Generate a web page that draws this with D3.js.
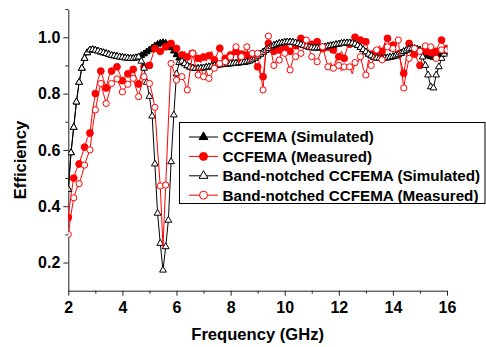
<!DOCTYPE html>
<html>
<head>
<meta charset="utf-8">
<script src="https://cdn.jsdelivr.net/npm/d3@7"></script>
<style>
  body { margin: 0; background: #fff; }
  svg { display: block; font-family: "Liberation Sans", Arial, sans-serif; font-weight: bold; }
</style>
</head>
<body>
<div id="chart"></div>
<script>
(function () {
  "use strict";

  // frequency grid, 2 - 16 GHz, 0.1 GHz step
  var freq = d3.range(141).map(function (i) { return +(2 + i * 0.1).toFixed(1); });

  var ccfemaSim = [
    0.46,0.59,0.68,0.77,0.84,0.89,0.925,0.945,0.955,0.956,
    0.954,0.951,0.948,0.945,0.942,0.939,0.936,0.934,0.932,0.93,
    0.929,0.927,0.926,0.925,0.925,0.927,0.93,0.935,0.941,0.948,
    0.955,0.962,0.969,0.975,0.979,0.981,0.979,0.973,0.963,0.951,
    0.938,0.926,0.915,0.906,0.899,0.894,0.891,0.889,0.889,0.89,
    0.891,0.893,0.895,0.897,0.899,0.901,0.902,0.903,0.904,0.905,
    0.906,0.907,0.908,0.909,0.91,0.911,0.913,0.916,0.92,0.926,
    0.933,0.94,0.947,0.954,0.96,0.966,0.971,0.975,0.978,0.98,
    0.982,0.983,0.983,0.982,0.98,0.977,0.974,0.971,0.968,0.965,
    0.963,0.962,0.962,0.963,0.964,0.966,0.968,0.97,0.972,0.974,
    0.976,0.978,0.979,0.98,0.98,0.979,0.976,0.971,0.964,0.956,
    0.948,0.94,0.934,0.929,0.926,0.925,0.925,0.926,0.927,0.929,
    0.931,0.934,0.938,0.943,0.949,0.954,0.958,0.96,0.96,0.958,
    0.954,0.948,0.941,0.935,0.931,0.929,0.93,0.934,0.939,0.945,
    0.95];

  var ccfemaMeas = [
    0.36,0.44,0.50,0.53,0.55,0.58,0.61,0.64,0.66,0.74,
    0.80,0.85,0.88,0.85,0.82,0.86,0.88,0.89,0.895,0.87,
    0.846,0.86,0.87,0.88,0.886,0.86,0.834,0.87,0.895,0.90,
    0.90,0.93,0.96,0.955,0.95,0.949,0.966,0.975,0.978,0.972,
    0.96,0.945,0.937,0.95,0.93,0.955,0.943,0.93,0.925,0.91,
    0.93,0.915,0.935,0.95,0.92,0.94,0.961,0.94,0.925,0.945,
    0.937,0.93,0.95,0.925,0.94,0.93,0.937,0.92,0.93,0.91,
    0.895,0.87,0.86,0.94,0.978,0.96,0.95,0.97,0.955,0.965,
    0.96,0.975,0.95,0.965,0.97,0.955,0.996,0.98,0.97,0.96,
    0.975,0.955,0.984,0.965,0.96,0.95,0.965,0.945,0.955,0.94,
    0.931,0.95,0.925,0.96,0.975,0.985,1.0,0.99,0.99,0.975,
    0.984,0.95,0.94,0.96,0.935,0.97,0.95,0.98,0.996,0.96,
    0.972,0.95,0.94,0.91,0.872,0.93,0.978,0.96,0.94,0.92,
    0.90,0.93,0.949,0.96,0.945,0.965,0.95,0.975,0.99,0.97,
    0.96];

  var notchSim = [
    0.46,0.59,0.68,0.77,0.84,0.89,0.925,0.945,0.955,0.956,
    0.954,0.951,0.948,0.945,0.942,0.939,0.936,0.934,0.932,0.93,
    0.929,0.927,0.926,0.925,0.925,0.927,0.93,0.915,0.89,0.84,
    0.79,0.72,0.55,0.375,0.268,0.173,0.256,0.35,0.558,0.724,
    0.87,0.91,0.915,0.906,0.899,0.894,0.891,0.889,0.889,0.89,
    0.891,0.893,0.895,0.897,0.899,0.901,0.902,0.903,0.904,0.905,
    0.906,0.907,0.908,0.909,0.91,0.911,0.913,0.916,0.92,0.926,
    0.933,0.94,0.947,0.954,0.96,0.966,0.971,0.975,0.978,0.98,
    0.982,0.983,0.983,0.982,0.98,0.977,0.974,0.971,0.968,0.965,
    0.963,0.962,0.962,0.963,0.964,0.966,0.968,0.97,0.972,0.974,
    0.976,0.978,0.979,0.98,0.98,0.979,0.976,0.971,0.964,0.956,
    0.948,0.94,0.934,0.929,0.926,0.925,0.925,0.926,0.927,0.929,
    0.931,0.934,0.938,0.943,0.949,0.954,0.958,0.96,0.96,0.958,
    0.954,0.93,0.9,0.866,0.824,0.82,0.866,0.895,0.925,0.94,
    0.95];

  var notchMeas = [
    0.30,0.37,0.43,0.46,0.48,0.51,0.546,0.575,0.60,0.68,
    0.742,0.79,0.836,0.80,0.765,0.80,0.836,0.845,0.852,0.83,
    0.806,0.82,0.833,0.845,0.854,0.82,0.789,0.83,0.86,0.85,
    0.836,0.80,0.751,0.60,0.472,0.256,0.475,0.70,0.907,0.88,
    0.848,0.87,0.86,0.84,0.813,0.88,0.943,0.90,0.866,0.89,
    0.86,0.88,0.854,0.87,0.89,0.91,0.907,0.92,0.913,0.94,
    0.93,0.95,0.966,0.907,0.931,0.95,0.966,0.913,0.943,0.92,
    0.943,0.88,0.813,0.95,1.004,0.95,0.90,0.92,0.919,0.955,
    0.943,0.91,0.884,0.92,0.931,0.935,0.943,0.96,0.99,0.96,
    0.931,0.925,0.913,0.94,0.966,0.93,0.895,0.91,0.89,0.92,
    0.90,0.88,0.895,0.90,0.895,0.87,0.91,0.91,0.931,0.89,
    0.866,0.92,0.90,0.93,0.955,0.93,0.92,0.98,0.966,0.95,
    0.96,0.97,0.99,0.90,0.82,0.88,0.925,0.95,0.96,0.937,
    0.95,0.96,0.969,0.96,0.966,0.94,0.925,0.95,0.955,0.96,
    0.955];

  var xMajor = [2, 4, 6, 8, 10, 12, 14, 16];
  var xMinor = [3, 5, 7, 9, 11, 13, 15];
  var yMajor = [0.2, 0.4, 0.6, 0.8, 1.0];
  var yMinor = [0.3, 0.5, 0.7, 0.9, 1.1];

  var series = [
    { name: "CCFEMA (Simulated)", values: ccfemaSim, color: "#000", shape: "tri", filled: true, step: 1 },
    { name: "CCFEMA (Measured)", values: ccfemaMeas, color: "#ff0000", shape: "circle", filled: true, step: 2 },
    { name: "Band-notched CCFEMA (Simulated)", values: notchSim, color: "#000", shape: "tri", filled: false, step: 1 },
    { name: "Band-notched CCFEMA (Measured)", values: notchMeas, color: "#ff0000", shape: "circle", filled: false, step: 2 }
  ];

  var width = 486, height = 347;
  var x = d3.scaleLinear().domain([2, 16]).range([68.3, 447]);
  var y = d3.scaleLinear().domain([0.1, 1.1]).range([290.7, 9.1]);

  var svg = d3.select("#chart").append("svg")
    .attr("width", width)
    .attr("height", height);

  svg.append("defs").append("clipPath").attr("id", "plotClip")
    .append("rect")
    .attr("x", x.range()[0]).attr("y", 0)
    .attr("width", x.range()[1] - x.range()[0] + 0.5)
    .attr("height", y.range()[0]);

  // axes
  var gx = svg.append("g").attr("transform", "translate(0," + y.range()[0] + ")");
  gx.call(d3.axisBottom(x).tickValues(xMajor).tickSize(5).tickSizeOuter(0).tickPadding(6).tickFormat(d3.format("d")));
  gx.append("g").call(d3.axisBottom(x).tickValues(xMinor).tickSize(3).tickFormat(""))
    .select(".domain").remove();

  var gy = svg.append("g").attr("transform", "translate(" + x.range()[0] + ",0)");
  gy.call(d3.axisLeft(y).tickValues(yMajor).tickSize(5).tickSizeOuter(0).tickPadding(3).tickFormat(d3.format(".1f")));
  gy.append("g").call(d3.axisLeft(y).tickValues(yMinor).tickSize(3).tickFormat(""))
    .select(".domain").remove();

  svg.selectAll(".domain, .tick line").attr("stroke", "#222").attr("stroke-width", 1);
  svg.selectAll(".tick text").attr("font-size", 16).attr("font-weight", "bold")
    .attr("font-family", "Liberation Sans, Arial, sans-serif").attr("fill", "#000");

  svg.append("text")
    .attr("x", (x.range()[0] + x.range()[1]) / 2)
    .attr("y", 340)
    .attr("text-anchor", "middle")
    .attr("font-size", 16.6)
    .text("Frequency (GHz)");

  svg.append("text")
    .attr("transform", "translate(25.5,160) rotate(-90)")
    .attr("text-anchor", "middle")
    .attr("font-size", 16.6)
    .text("Efficiency");

  // data
  var plot = svg.append("g").attr("clip-path", "url(#plotClip)");
  var line = d3.line()
    .x(function (d) { return x(d[0]); })
    .y(function (d) { return y(d[1]); });
  var triPath = d3.symbol(d3.symbolTriangle, 20)();
  var triPathBig = d3.symbol(d3.symbolTriangle, 34)();

  function drawMarker(g, s, big) {
    if (s.shape === "tri") {
      return g.append("path").attr("d", big ? triPathBig : triPath);
    }
    return g.append("circle").attr("r", big ? 4 : (s.filled ? 3.4 : 3.1));
  }

  series.forEach(function (s) {
    var pts = freq.map(function (f, i) { return [f, s.values[i]]; });
    var g = plot.append("g");
    g.append("path")
      .datum(pts)
      .attr("fill", "none")
      .attr("stroke", s.color)
      .attr("stroke-width", 1)
      .attr("d", line);
    pts.filter(function (d, i) { return i % s.step === 0; }).forEach(function (d) {
      var m = g.append("g").attr("transform", "translate(" + x(d[0]) + "," + y(d[1]) + ")");
      drawMarker(m, s, false)
        .attr("fill", s.filled ? s.color : "#fff")
        .attr("stroke", s.color)
        .attr("stroke-width", 1);
    });
  });

  // legend
  var legend = svg.append("g");
  legend.append("rect")
    .attr("x", 179.5).attr("y", 122.5)
    .attr("width", 305.5).attr("height", 81)
    .attr("fill", "#fff").attr("stroke", "#000").attr("stroke-width", 1);

  series.forEach(function (s, i) {
    var ly = 137 + i * 19.4;
    var row = legend.append("g").attr("transform", "translate(0," + ly + ")");
    row.append("line")
      .attr("x1", 189).attr("x2", 218).attr("y1", 0).attr("y2", 0)
      .attr("stroke", s.color).attr("stroke-width", 1);
    var m = row.append("g").attr("transform", "translate(203.5,0)");
    drawMarker(m, s, true)
      .attr("fill", s.filled ? s.color : "#fff")
      .attr("stroke", s.color)
      .attr("stroke-width", 1);
    row.append("text")
      .attr("x", 222.5)
      .attr("y", 5.3)
      .attr("font-size", 15.2)
      .text(s.name);
  });
}());
</script>
</body>
</html>
